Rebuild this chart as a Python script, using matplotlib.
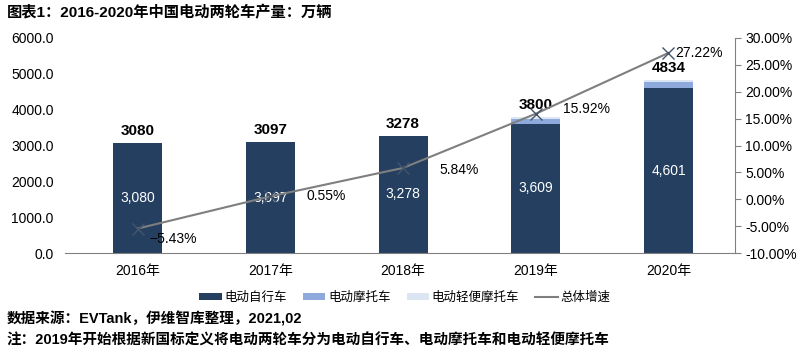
import numpy as np
import matplotlib.pyplot as plt
from matplotlib.ticker import FuncFormatter
from matplotlib.lines import Line2D

plt.rcParams['font.family'] = ['Liberation Sans', 'Noto Sans CJK SC', 'DejaVu Sans']

# 数据
years = ['2016年', '2017年', '2018年', '2019年', '2020年']
bicycle = [3080, 3097, 3278, 3609, 4601]      # 电动自行车
motorcycle = [0, 0, 0, 120, 160]              # 电动摩托车
light_moto = [0, 0, 0, 71, 73]                # 电动轻便摩托车
totals = [3080, 3097, 3278, 3800, 4834]
growth = [-5.43, 0.55, 5.84, 15.92, 27.22]    # 总体增速, %

c_bike = '#243F60'
c_moto = '#8EA9DB'
c_light = '#DCE6F2'
c_line = '#7F7F7F'

fig = plt.figure(figsize=(8, 3.57), dpi=100)
ax = fig.add_axes([0.081, 0.291, 0.8375, 0.6026])
x = np.arange(len(years))
w = 0.37

b1 = ax.bar(x, bicycle, w, color=c_bike, label='电动自行车', zorder=2)
b2 = ax.bar(x, motorcycle, w, bottom=bicycle, color=c_moto, label='电动摩托车', zorder=2)
bottom3 = np.array(bicycle) + np.array(motorcycle)
b3 = ax.bar(x, light_moto, w, bottom=bottom3, color=c_light, label='电动轻便摩托车', zorder=2)

for i in range(len(x)):
    ax.text(x[i], bicycle[i] / 2, f'{bicycle[i]:,}', color='white', ha='center', va='center',
            fontsize=10, zorder=3)
    ax.text(x[i], totals[i] + 130, str(totals[i]), color='black', ha='center', va='bottom',
            fontsize=11, fontweight='bold', zorder=3)

ax.set_ylim(0, 6000)
ax.set_yticks(np.arange(0, 6001, 1000))
ax.yaxis.set_major_formatter(FuncFormatter(lambda v, p: f'{v:.1f}'))
ax.set_xlim(-0.55, 4.5)
ax.set_xticks(x)
ax.set_xticklabels(years)
ax.tick_params(axis='y', length=0, labelsize=10, pad=8)
ax.tick_params(axis='x', length=0, labelsize=10, pad=8)
for s in ['top', 'right', 'left']:
    ax.spines[s].set_visible(False)
ax.spines['bottom'].set_color('#808080')

ax2 = ax.twinx()
ax2.plot(x, growth, color=c_line, lw=1.5, marker='x', markersize=8,
         markeredgecolor='#44546A', zorder=4)
ax2.set_ylim(-10, 30)
ax2.set_yticks(np.arange(-10, 31, 5))
ax2.yaxis.set_major_formatter(FuncFormatter(lambda v, p: f'{v:.2f}%'))
ax2.tick_params(axis='y', direction='out', length=4, color='#808080', labelsize=10)
for s in ['top', 'left', 'bottom']:
    ax2.spines[s].set_visible(False)
ax2.spines['right'].set_color('#808080')

offsets = [(0.27, -2.0), (0.42, 0.0), (0.42, -0.3), (0.38, 0.8), (0.23, 0.0)]
for i in range(len(x)):
    dx, dy = offsets[i]
    ax2.text(x[i] + dx, growth[i] + dy, f'{growth[i]:.2f}%'.replace('-', '\u2212'),
             ha='center', va='center', fontsize=10, zorder=6)

ln = Line2D([], [], color=c_line, lw=1.5)
fig.legend(handles=[b1, b2, b3, ln], labels=['电动自行车', '电动摩托车', '电动轻便摩托车', '总体增速'],
           loc='center', bbox_to_anchor=(0.506, 0.165), ncol=4, frameon=False, fontsize=9,
           handlelength=1.8, handleheight=0.45, columnspacing=1.3, handletextpad=0.2)

fig.text(0.008, 0.965, '图表1：2016-2020年中国电动两轮车产量：万辆', fontsize=11, fontweight='bold',
         ha='left', va='center')
fig.text(0.008, 0.108, '数据来源：EVTank，伊维智库整理，2021,02', fontsize=10.5, fontweight='bold',
         ha='left', va='center')
fig.text(0.008, 0.045, '注：2019年开始根据新国标定义将电动两轮车分为电动自行车、电动摩托车和电动轻便摩托车',
         fontsize=10.5, fontweight='bold', ha='left', va='center')

plt.savefig('out.png', dpi=100)
